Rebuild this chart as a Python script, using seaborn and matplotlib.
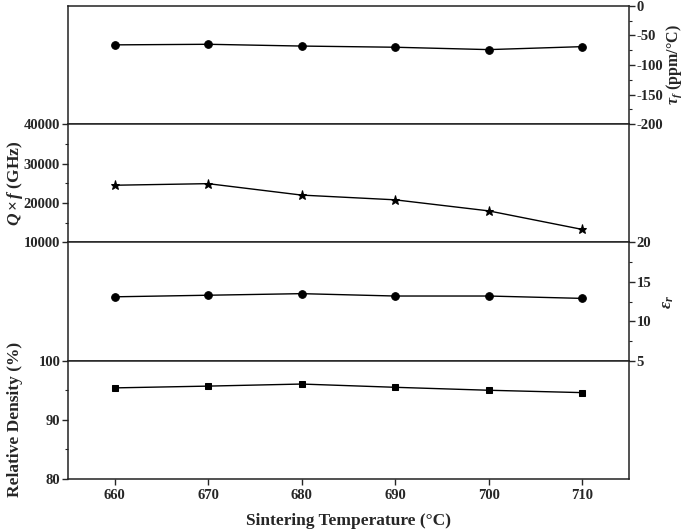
import matplotlib
matplotlib.use('Agg')
import matplotlib.pyplot as plt
import seaborn as sns
from matplotlib.ticker import MultipleLocator, NullLocator

# Sintering temperature (°C)
temps = [660, 670, 680, 690, 700, 710]

tau_f = [-66, -65, -68, -70, -74, -69]              # ppm/°C
qf = [24500, 24900, 22000, 20800, 18000, 13300]     # GHz
eps_r = [13.1, 13.3, 13.5, 13.2, 13.2, 12.9]
density = [95.4, 95.7, 96.05, 95.5, 95.0, 94.6]     # %

sns.set_style('ticks')
plt.rcParams['font.family'] = ['Liberation Serif', 'DejaVu Serif']
plt.rcParams['font.weight'] = 'bold'
plt.rcParams['axes.unicode_minus'] = False
plt.rcParams['mathtext.fontset'] = 'custom'
plt.rcParams['mathtext.rm'] = 'Liberation Serif:bold'
plt.rcParams['mathtext.it'] = 'Liberation Serif:italic:bold'
plt.rcParams['mathtext.bf'] = 'Liberation Serif:bold'

fig, axes = plt.subplots(4, 1, figsize=(6.85, 5.31), dpi=100, sharex=True)
fig.subplots_adjust(left=0.099, right=0.918, top=0.989, bottom=0.098, hspace=0)

panels = [
    (tau_f, 'o', 5.5, (-200, 0), 50, 25, 'right'),
    (qf, '*', 6.5, (10000, 40000), 10000, 5000, 'left'),
    (eps_r, 'o', 5.5, (5, 20), 5, 2.5, 'right'),
    (density, 's', 5, (80, 100), 10, 5, 'left'),
]

for ax, (vals, mk, ms, lim, major, minor, side) in zip(axes, panels):
    sns.lineplot(x=temps, y=vals, marker=mk, markersize=ms, color='black',
                 markeredgecolor='black', linewidth=1, ax=ax)
    ax.set_ylim(*lim)
    ax.yaxis.set_major_locator(MultipleLocator(major))
    ax.yaxis.set_minor_locator(MultipleLocator(minor))
    for s in ax.spines.values():
        s.set_linewidth(1.1)
        s.set_color('#222222')
    if side == 'right':
        ax.yaxis.tick_right()
    ax.tick_params(axis='y', which='both', direction='out', labelsize=10.5, pad=1.5,
                   left=(side == 'left'), right=(side == 'right'),
                   labelleft=(side == 'left'), labelright=(side == 'right'))
    ax.tick_params(axis='y', which='major', length=4, width=1)
    ax.tick_params(axis='y', which='minor', length=2.5, width=0.8)
    ax.tick_params(axis='x', which='both', bottom=False, top=False)
    ax.set_ylabel('')

# axis titles placed like the original layers
def side_label(ax, x, text, size=12.5):
    ax.text(x, 0.5, text, transform=ax.transAxes, rotation=90, ha='center', va='center',
            fontsize=size, fontweight='bold')

side_label(axes[0], 1.08, r'$\tau_f$ (ppm/°C)', size=11.5)
side_label(axes[1], -0.094, r'$Q\times f$ (GHz)')
side_label(axes[2], 1.07, r'$\varepsilon_r$')
side_label(axes[3], -0.094, 'Relative Density (%)')

bottom = axes[3]
bottom.set_xlim(655, 715)
bottom.set_xticks([660, 670, 680, 690, 700, 710])
bottom.xaxis.set_minor_locator(MultipleLocator(5))
bottom.tick_params(axis='x', which='both', bottom=True, direction='out', labelsize=10.5, labelbottom=True)
bottom.tick_params(axis='x', which='major', length=4, width=1)
bottom.tick_params(axis='x', which='minor', length=2.5, width=0.8)
bottom.set_xlabel('Sintering Temperature (°C)', fontsize=12.5, fontweight='bold', labelpad=8)
for ax in axes[:-1]:
    ax.xaxis.set_minor_locator(NullLocator())

fig.savefig('out.png', dpi=100)
